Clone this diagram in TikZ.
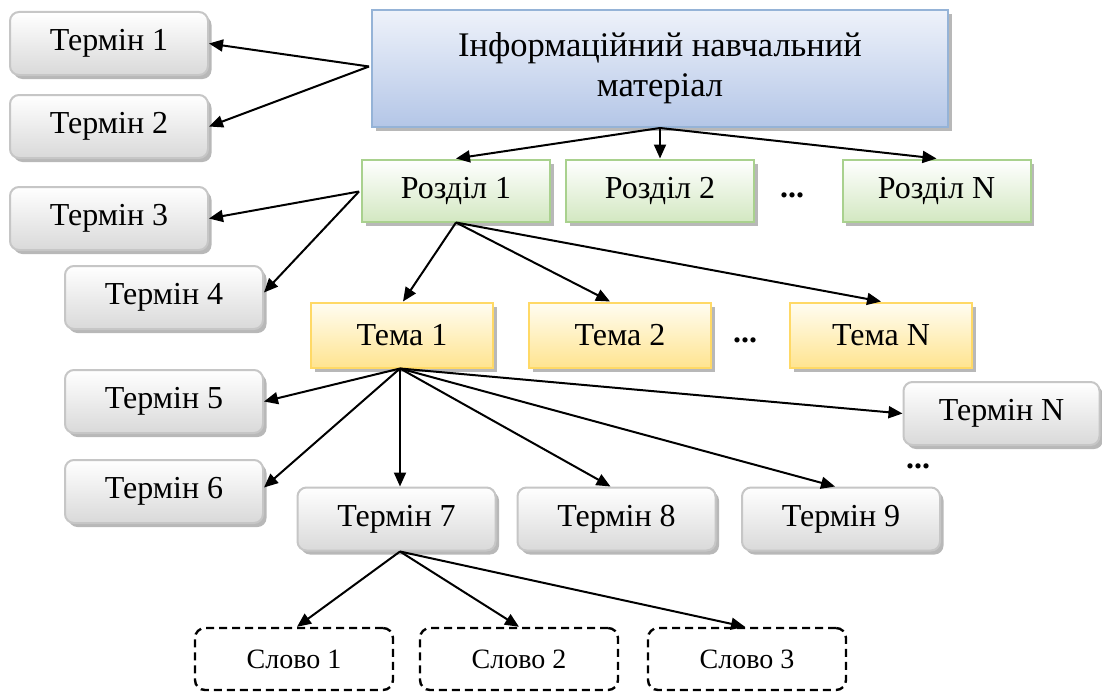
\documentclass[tikz,border=0pt]{standalone}
\usepackage{fontspec}
\setmainfont{Liberation Serif}
\usetikzlibrary{arrows.meta,shadows,calc}

\definecolor{grayedge}{HTML}{C6C6C6}
\definecolor{graybot}{HTML}{D9D9D9}
\definecolor{blueedge}{HTML}{95B3D7}
\definecolor{bluetop}{HTML}{EEF2FA}
\definecolor{bluebot}{HTML}{B4C6E7}
\definecolor{greenedge}{HTML}{A9D18E}
\definecolor{greenbot}{HTML}{D3E8C2}
\definecolor{yellowedge}{HTML}{FFD966}
\definecolor{yellowtop}{HTML}{FFFDF2}
\definecolor{yellowbot}{HTML}{FFE490}

\tikzset{
  boxshadow/.style={drop shadow={shadow xshift=3.5pt, shadow yshift=-4pt, fill=black, opacity=0.28}},
  basebox/.style={font=\fontsize{32}{38}\selectfont, align=center, inner sep=0pt, line width=2pt, boxshadow},
  termbox/.style={basebox, draw=grayedge, rounded corners=9pt, top color=white, bottom color=graybot,
    minimum width=198pt, minimum height=63pt},
  mainbox/.style={basebox, draw=blueedge, top color=bluetop, bottom color=bluebot,
    minimum width=576pt, minimum height=117pt, font=\fontsize{34.5}{40}\selectfont},
  secbox/.style={basebox, draw=greenedge, top color=white, bottom color=greenbot,
    minimum width=188pt, minimum height=62pt},
  themebox/.style={basebox, draw=yellowedge, top color=yellowtop, bottom color=yellowbot,
    minimum width=182pt, minimum height=65pt},
  wordbox/.style={draw=black, dash pattern=on 8pt off 5pt, line width=2.4pt, rounded corners=10pt,
    minimum width=198pt, minimum height=62pt, inner sep=0pt, font=\fontsize{28}{32}\selectfont},
  dots/.style={font=\fontsize{32}{38}\selectfont\bfseries, inner sep=0pt},
  link/.style={-{Triangle[length=14pt,width=12pt]}, line width=2pt, black},
}

\begin{document}
\begin{tikzpicture}[x=1pt,y=-1pt]
  \fill[white] (0,0) rectangle (1102,693);
  \useasboundingbox (0,0) rectangle (1102,693);

  % main material
  \node[mainbox] (top) at (660,68.5) {Інформаційний навчальний\\матеріал};

  % sections
  \node[secbox] (r1) at (456,190.5) {Розділ 1};
  \node[secbox] (r2) at (660,190.5) {Розділ 2};
  \node[secbox] (rN) at (936.5,190.5) {Розділ N};
  \node[dots] (d1) at (792,195) {...};

  % themes
  \node[themebox] (th1) at (402,335) {Тема 1};
  \node[themebox] (th2) at (620,335) {Тема 2};
  \node[themebox] (thN) at (881,335) {Тема N};
  \node[dots] (d2) at (745,340) {...};

  % terms
  \node[termbox] (t1) at (109,43.5) {Термін 1};
  \node[termbox] (t2) at (109,126.5) {Термін 2};
  \node[termbox] (t3) at (109,218.5) {Термін 3};
  \node[termbox] (t4) at (164,297.5) {Термін 4};
  \node[termbox] (t5) at (164,401.5) {Термін 5};
  \node[termbox] (t6) at (164,491.5) {Термін 6};
  \node[termbox] (t7) at (396.5,519) {Термін 7};
  \node[termbox] (t8) at (616.5,519) {Термін 8};
  \node[termbox] (t9) at (841,519) {Термін 9};
  \node[termbox, minimum width=196pt] (tN) at (1001.5,413.5) {Термін N};
  \node[dots] (d3) at (918,466) {...};

  % words
  \node[wordbox] (s1) at (294,659) {Слово 1};
  \node[wordbox] (s2) at (519,659) {Слово 2};
  \node[wordbox] (s3) at (747,659) {Слово 3};

  % connectors
  \coordinate (topl) at ($(top.west)+(-2,-2)$);
  \draw[link] (topl) -- (t1.east);
  \draw[link] (topl) -- (t2.east);
  \coordinate (topb) at (top.south);
  \draw[link] (topb) -- (r1.north);
  \draw[link] (topb) -- (r2.north);
  \draw[link] (topb) -- (rN.north);

  \coordinate (r1l) at ($(r1.west)+(-2,1)$);
  \draw[link] (r1l) -- (t3.east);
  \draw[link] (r1l) -- ($(t4.east)+(0,-5)$);
  \coordinate (r1b) at (r1.south);
  \draw[link] (r1b) -- ($(th1.north)+(1,0)$);
  \draw[link] (r1b) -- ($(th2.north)+(-10,0)$);
  \draw[link] (r1b) -- (thN.north);

  \coordinate (th1b) at ($(th1.south)+(-2,0)$);
  \draw[link] (th1b) -- (t5.east);
  \draw[link] (th1b) -- ($(t6.east)+(0,-4)$);
  \draw[link] (th1b) -- ($(t7.north)+(3.5,0)$);
  \draw[link] (th1b) -- ($(t8.north)+(-6,0)$);
  \draw[link] (th1b) -- ($(t9.north)+(-6,0)$);
  \draw[link] (th1b) -- (tN.west);

  \coordinate (t7b) at ($(t7.south)+(3.5,0)$);
  \draw[link] (t7b) -- ($(s1.north)+(3,0)$);
  \draw[link] (t7b) -- (s2.north);
  \draw[link] (t7b) -- ($(s3.north)+(-2,0)$);
\end{tikzpicture}
\end{document}
